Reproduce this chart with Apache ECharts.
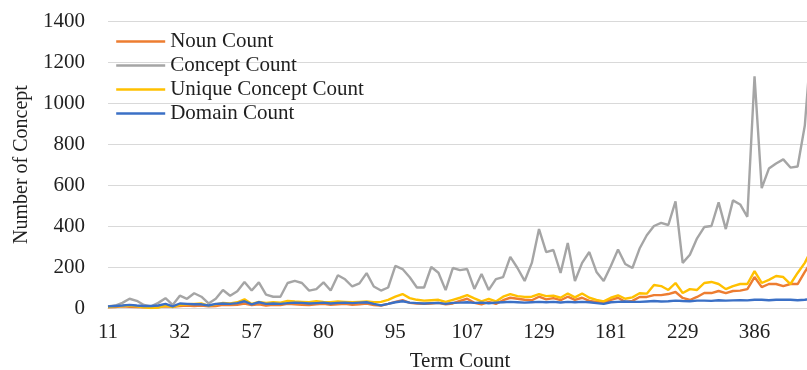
<!DOCTYPE html>
<html>
<head>
<meta charset="utf-8">
<script src="https://cdn.jsdelivr.net/npm/echarts@6/dist/echarts.min.js"></script>
<style>
  html, body { margin: 0; padding: 0; background: #fff; }
  #chart { width: 807px; height: 370px; }
</style>
</head>
<body>
<div id="chart"></div>
<script>
// term count tick labels, one every 10 points
const tickLabels = ['11', '32', '57', '80', '95', '107', '129', '181', '229', '386']

const nounCount = [
  3, 5, 8, 6, 5, 4, 3, 5, 8, 6,
  10, 12, 10, 12, 8, 10, 15, 14, 16, 22,
  14, 18, 12, 15, 14, 20, 18, 16, 14, 18,
  20, 15, 18, 20, 15, 18, 22, 14, 12, 20,
  30, 38, 25, 22, 20, 22, 25, 18, 22, 35,
  45, 25, 18, 30, 20, 38, 50, 45, 40, 38,
  55, 42, 48, 38, 55, 40, 50, 35, 30, 25,
  40, 50, 30, 35, 54, 54, 63, 63, 68, 78,
  49, 39, 54, 73, 73, 83, 73, 83, 85, 92,
  151, 102, 117, 117, 107, 117, 117, 176, 230
]

const conceptCount = [
  8, 12, 25, 45, 35, 15, 8, 25, 48, 15,
  60, 45, 72, 55, 22, 45, 88, 60, 82, 127,
  85, 125, 65, 55, 55, 122, 132, 122, 85, 92,
  125, 85, 160, 140, 105, 120, 170, 105, 85, 100,
  205, 190, 150, 100, 100, 200, 172, 87, 195, 185,
  190, 93, 166, 88, 141, 151, 249, 195, 132, 220,
  385, 273, 283, 171, 317, 132, 220, 273, 176, 132,
  205, 285, 215, 195, 290, 355, 400, 415, 405, 520,
  220, 260, 340, 395, 400, 515, 385, 525, 505, 445,
  1130, 585, 680, 705, 725, 685, 690, 890, 1340
]

const uniqueConceptCount = [
  5, 8, 10, 12, 8, 3, 0, 2, 12, 5,
  15, 18, 20, 22, 10, 18, 25, 22, 28, 42,
  20, 30, 25, 28, 26, 35, 32, 30, 28, 33,
  30, 28, 32, 30, 28, 30, 32, 28, 30, 40,
  55, 68, 48, 40, 36, 38, 40, 30, 40, 50,
  63, 47, 32, 45, 32, 55, 68, 58, 54, 55,
  68, 58, 60, 50, 71, 52, 71, 50, 40, 32,
  50, 62, 45, 52, 72, 70, 112, 107, 88, 122,
  73, 92, 88, 122, 127, 117, 92, 107, 117, 117,
  180, 122, 137, 156, 151, 117, 171, 220, 290
]

const domainCount = [
  8, 10, 12, 15, 12, 10, 10, 12, 20, 8,
  22, 20, 18, 18, 12, 20, 22, 20, 24, 33,
  18, 28, 20, 22, 20, 24, 26, 25, 22, 24,
  26, 22, 25, 26, 24, 26, 28, 20, 13, 20,
  28, 33, 26, 24, 22, 24, 25, 20, 25, 26,
  28, 25, 26, 23, 26, 28, 30, 28, 26, 28,
  30, 28, 30, 27, 30, 28, 30, 28, 24, 20,
  28, 30, 32, 30, 30, 32, 34, 32, 33, 36,
  34, 33, 36, 36, 35, 38, 36, 37, 38, 37,
  40, 40, 38, 40, 40, 40, 38, 40, 45
]

const points = nounCount.map((_, i) => String(i))

const font = 'Liberation Serif'
const textColor = '#1f1f1f'

const chart = echarts.init(document.getElementById('chart'))

const mkLine = (name, data, color) => ({
  name,
  type: 'line',
  data,
  symbol: 'none',
  lineStyle: { color, width: 2.4 },
  itemStyle: { color },
  animation: false
})

chart.setOption({
  animation: false,
  grid: { left: 108, right: -5, top: 21, bottom: 62, outerBoundsMode: 'none' },
  legend: {
    orient: 'vertical',
    left: 110,
    top: 26,
    itemWidth: 49,
    itemHeight: 14,
    itemGap: 3,
    itemStyle: { opacity: 0 },
    lineStyle: { width: 2.4 },
    textStyle: { fontFamily: font, fontSize: 21, color: textColor },
    data: ['Noun Count', 'Concept Count', 'Unique Concept Count', 'Domain Count']
  },
  xAxis: {
    type: 'category',
    data: points,
    boundaryGap: false,
    name: 'Term Count',
    nameLocation: 'middle',
    nameGap: 43,
    nameTextStyle: { fontFamily: font, fontSize: 21, color: textColor },
    axisLine: { lineStyle: { color: '#d9d9d9' } },
    axisTick: { show: false },
    axisLabel: {
      interval: 9,
      margin: 14,
      fontFamily: font,
      fontSize: 21,
      color: textColor,
      formatter: (v, i) => tickLabels[i / 10] || ''
    }
  },
  yAxis: {
    type: 'value',
    min: 0,
    max: 1400,
    interval: 200,
    name: 'Number of Concept',
    nameLocation: 'middle',
    nameGap: 62,
    nameTextStyle: { fontFamily: font, fontSize: 20, color: textColor },
    axisLine: { show: false },
    axisTick: { show: false },
    axisLabel: { margin: 23, fontFamily: font, fontSize: 21, color: textColor, formatter: v => String(v) },
    splitLine: { lineStyle: { color: '#d9d9d9', width: 1 } }
  },
  series: [
    mkLine('Noun Count', nounCount, '#ED7D31'),
    mkLine('Concept Count', conceptCount, '#A5A5A5'),
    mkLine('Unique Concept Count', uniqueConceptCount, '#FFC000'),
    mkLine('Domain Count', domainCount, '#3B70C6')
  ]
})
</script>
</body>
</html>
